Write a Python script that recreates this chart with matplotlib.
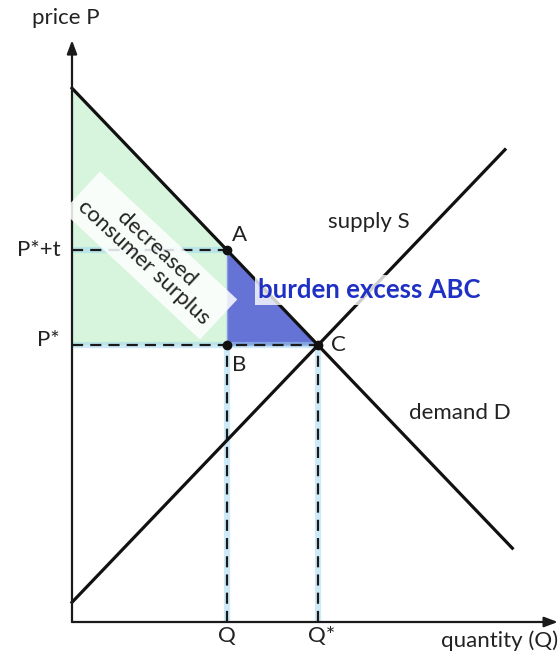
import numpy as np
import matplotlib
matplotlib.use('Agg')
import matplotlib.pyplot as plt
from matplotlib.patches import Polygon

plt.rcParams['font.family'] = ['Lato', 'DejaVu Sans']

# market lines (quantity, price)
demand_q = [0, 17.9]
demand_p = [21.7, 3.0]
supply_q = [0, 17.6]
supply_p = [0.8, 19.2]
q_taxed = 6.3          # quantity after the tax
x_axis_end = 19.75
y_axis_end = 23.65

def line_at(qs, ps, q):
    slope = (ps[1] - ps[0]) / (qs[1] - qs[0])
    return ps[0] + slope * (q - qs[0])

# equilibrium where the two lines cross
sd = (demand_p[1] - demand_p[0]) / (demand_q[1] - demand_q[0])
ss = (supply_p[1] - supply_p[0]) / (supply_q[1] - supply_q[0])
q_star = (supply_p[0] - demand_p[0]) / (sd - ss)
p_star = line_at(supply_q, supply_p, q_star)
p_tax = line_at(demand_q, demand_p, q_taxed)

u = 24.6  # pixels per unit
fig = plt.figure(figsize=(5.59, 6.62), dpi=100)
ax = fig.add_axes([0, 0, 1, 1])
ax.set_xlim(-72 / u, 487 / u)
ax.set_ylim(-40 / u, 622 / u)
ax.axis('off')

# shaded areas
green = Polygon([(0, demand_p[0]), (q_taxed, p_tax), (q_taxed, p_star), (0, p_star)],
                closed=True, facecolor='#d6f5dc', edgecolor='none', zorder=1)
ax.add_patch(green)
tri = Polygon([(q_taxed, p_tax), (q_taxed, p_star), (q_star, p_star)],
              closed=True, facecolor='#6673d6', edgecolor='#8a9ae0', lw=1, zorder=2)
ax.add_patch(tri)

# guide lines: light blue band under black dashes
guides = [([0, q_taxed], [p_tax, p_tax]),
          ([0, q_star], [p_star, p_star]),
          ([q_taxed, q_taxed], [0, p_star]),
          ([q_star, q_star], [0, p_star])]
for gx, gy in guides:
    ax.plot(gx, gy, color='#a0d6f0', alpha=0.5, lw=4.5, solid_capstyle='butt', zorder=3)
    ax.plot(gx, gy, color='#1a1a1a', lw=1.6, dashes=(5, 3.2), zorder=4)

# demand and supply
ax.plot(demand_q, demand_p, color='#111111', lw=2.3, zorder=5)
ax.plot(supply_q, supply_p, color='#111111', lw=2.3, zorder=5)

# axes with arrows
arrow = dict(arrowstyle='-|>,head_length=0.8,head_width=0.3', lw=1.6,
             color='#1a1a1a', shrinkA=0, shrinkB=0)
ax.annotate('', xy=(0, y_axis_end), xytext=(0, 0), arrowprops=arrow, zorder=6)
ax.annotate('', xy=(x_axis_end, 0), xytext=(0, 0), arrowprops=arrow, zorder=6)

# points A, B, C
ax.plot([q_taxed, q_taxed, q_star], [p_tax, p_star, p_star], 'o', color='#111111',
        ms=6, zorder=7)

fs = 16
tc = '#222222'
ax.annotate('A', (q_taxed, p_tax), xytext=(9, 11), textcoords='offset points',
            fontsize=fs, ha='center', va='center', color=tc)
ax.annotate('B', (q_taxed, p_star), xytext=(9, -14), textcoords='offset points',
            fontsize=fs, ha='center', va='center', color=tc)
ax.annotate('C', (q_star, p_star), xytext=(15, 0), textcoords='offset points',
            fontsize=fs, ha='center', va='center', color=tc)

# tick-like labels
ax.text(-0.48, p_tax, 'P*+t', fontsize=fs, ha='right', va='center', color=tc)
ax.text(-0.48, p_star + 0.2, 'P*', fontsize=fs, ha='right', va='center', color=tc)
ax.text(q_taxed, -0.57, 'Q', fontsize=fs, ha='center', va='center', color=tc)
ax.text(q_star + 0.15, -0.57, 'Q*', fontsize=fs, ha='center', va='center', color=tc)
ax.text(x_axis_end, -0.75, 'quantity (Q)', fontsize=fs, ha='right', va='center', color=tc)
ax.text(-0.24, 24.55, 'price P', fontsize=fs, ha='center', va='center', color=tc)

ax.text(12.07, 16.26, 'supply S', fontsize=fs, ha='center', va='center', color=tc)
ax.text(15.77, 8.5, 'demand D', fontsize=fs, ha='center', va='center', color=tc)

ax.text(12.07, 13.5, 'burden excess ABC', fontsize=18.5, fontweight='bold',
        ha='center', va='center', color='#1f30c4', zorder=8,
        bbox=dict(boxstyle='square,pad=0.12', facecolor='white', edgecolor='none', alpha=0.8))

ax.text(3.17, 14.9, 'decreased\nconsumer surplus', fontsize=fs, ha='center', va='center',
        rotation=-43, rotation_mode='anchor', linespacing=0.95, color=tc, zorder=8,
        bbox=dict(boxstyle='square,pad=0.35', facecolor='white', edgecolor='none', alpha=0.85))

fig.savefig('out.png', dpi=100)
